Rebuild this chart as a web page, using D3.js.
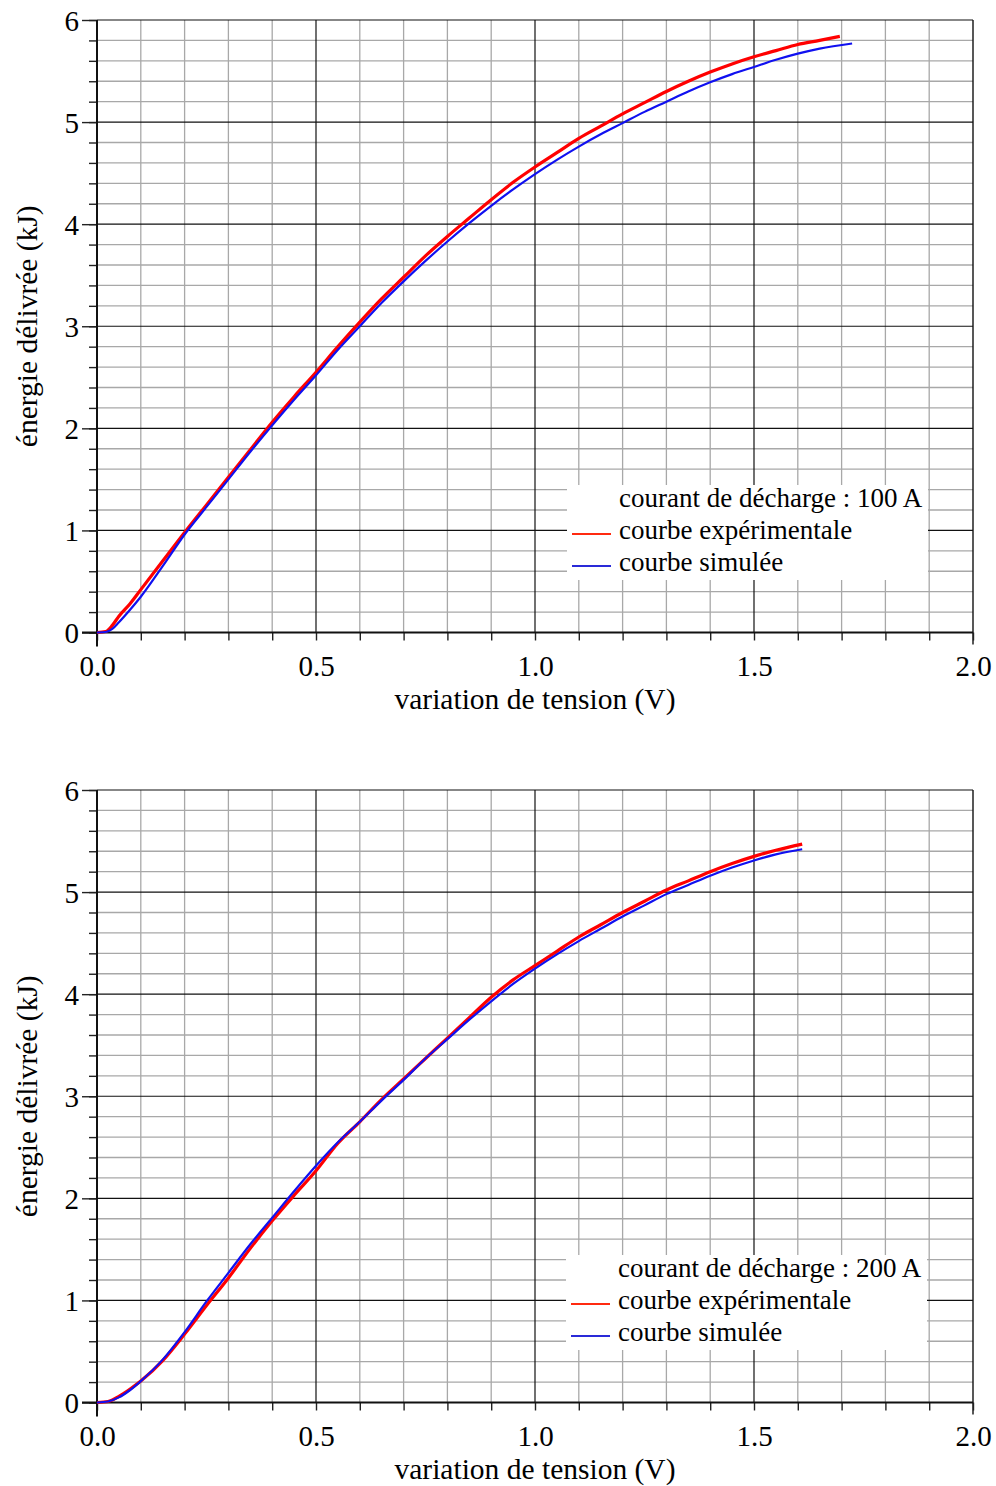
<!DOCTYPE html>
<html>
<head>
<meta charset="utf-8">
<script src="https://cdn.jsdelivr.net/npm/d3@7"></script>
<style>
body { margin: 0; background: #fff; }
svg { display: block; font-family: 'Liberation Serif', 'Times New Roman', serif; }
</style>
</head>
<body>
<svg id="chart" width="996" height="1486"></svg>
<script>
'use strict';

// 100 A discharge
var aVoltExp100 = [0, 0.02, 0.035, 0.05, 0.075, 0.1, 0.15, 0.2, 0.25, 0.3, 0.35, 0.4, 0.45, 0.5, 0.55, 0.6, 0.65, 0.7, 0.75, 0.8, 0.85, 0.9, 0.95, 1.0, 1.05, 1.1, 1.15, 1.2, 1.25, 1.3, 1.35, 1.4, 1.45, 1.5, 1.55, 1.6, 1.65, 1.696];
var aEnergyExp100 = [0, 0.01, 0.07, 0.16, 0.28, 0.42, 0.70, 0.98, 1.25, 1.52, 1.79, 2.06, 2.31, 2.55, 2.80, 3.04, 3.27, 3.48, 3.69, 3.88, 4.06, 4.24, 4.41, 4.56, 4.70, 4.84, 4.96, 5.08, 5.19, 5.30, 5.40, 5.49, 5.57, 5.64, 5.70, 5.76, 5.80, 5.84];
var aVoltSim100 = [0, 0.02, 0.035, 0.05, 0.075, 0.1, 0.15, 0.2, 0.25, 0.3, 0.35, 0.4, 0.45, 0.5, 0.55, 0.6, 0.65, 0.7, 0.75, 0.8, 0.85, 0.9, 0.95, 1.0, 1.05, 1.1, 1.15, 1.2, 1.25, 1.3, 1.35, 1.4, 1.45, 1.5, 1.55, 1.6, 1.65, 1.724];
var aEnergySim100 = [0, 0.005, 0.035, 0.10, 0.22, 0.35, 0.65, 0.96, 1.23, 1.50, 1.77, 2.03, 2.28, 2.52, 2.77, 3.00, 3.23, 3.44, 3.64, 3.83, 4.01, 4.18, 4.34, 4.49, 4.63, 4.76, 4.88, 4.99, 5.10, 5.20, 5.30, 5.39, 5.47, 5.54, 5.61, 5.67, 5.72, 5.77];

// 200 A discharge
var aVolt200 = [0, 0.025, 0.05, 0.075, 0.1, 0.15, 0.2, 0.25, 0.3, 0.35, 0.4, 0.45, 0.5, 0.55, 0.6, 0.65, 0.7, 0.75, 0.8, 0.85, 0.9, 0.95, 1.0, 1.05, 1.1, 1.15, 1.2, 1.25, 1.3, 1.35, 1.4, 1.45, 1.5, 1.55, 1.61];
var aEnergyExp200 = [0, 0.01, 0.06, 0.13, 0.21, 0.41, 0.67, 0.95, 1.22, 1.51, 1.78, 2.03, 2.27, 2.54, 2.75, 2.97, 3.17, 3.37, 3.57, 3.77, 3.97, 4.14, 4.28, 4.42, 4.56, 4.68, 4.80, 4.91, 5.02, 5.11, 5.20, 5.28, 5.35, 5.41, 5.47];
var aEnergySim200 = [0, 0.01, 0.05, 0.12, 0.21, 0.42, 0.69, 0.99, 1.27, 1.55, 1.81, 2.07, 2.32, 2.55, 2.75, 2.96, 3.16, 3.37, 3.56, 3.75, 3.93, 4.10, 4.25, 4.39, 4.52, 4.64, 4.76, 4.87, 4.98, 5.07, 5.16, 5.24, 5.31, 5.37, 5.42];

var aXTickLabels = [0, 0.5, 1.0, 1.5, 2.0];
var aYTickLabels = [0, 1, 2, 3, 4, 5, 6];
var strXTitle = 'variation de tension (V)';
var strYTitle = 'énergie délivrée (kJ)';
var aLegend100 = ['courant de décharge : 100 A', 'courbe expérimentale', 'courbe simulée'];
var aLegend200 = ['courant de décharge : 200 A', 'courbe expérimentale', 'courbe simulée'];

function ZipData(aX, aY)
{
	return aX.map(function(x, i) { return [x, aY[i]]; });
}

function DrawPanel(svg, nTop, aProps)
{
	var nLeft = 97, nRight = 973;
	var nBottom = nTop + 612.5;

	var g = svg.append('g');

	var xScale = d3.scaleLinear().domain([0, 2]).range([nLeft, nRight]);
	var yScale = d3.scaleLinear().domain([0, 6]).range([nBottom, nTop]);

	var arrayXMinor = d3.range(0, 21).map(function(i) { return i / 10; });
	var arrayYMinor = d3.range(0, 31).map(function(i) { return i / 5; });

	// grid
	g.append('g').selectAll('line')
		.data(arrayXMinor.filter(function(v, i) { return i % 5 != 0; }))
		.enter().append('line')
		.attr('x1', function(d) { return xScale(d); })
		.attr('x2', function(d) { return xScale(d); })
		.attr('y1', nTop).attr('y2', nBottom)
		.attr('stroke', '#a8a8a8').attr('stroke-width', 1.3);
	g.append('g').selectAll('line')
		.data(arrayYMinor.filter(function(v, i) { return i % 5 != 0; }))
		.enter().append('line')
		.attr('y1', function(d) { return yScale(d); })
		.attr('y2', function(d) { return yScale(d); })
		.attr('x1', nLeft).attr('x2', nRight)
		.attr('stroke', '#a8a8a8').attr('stroke-width', 1.3);
	g.append('g').selectAll('line')
		.data(aXTickLabels.slice(1, 4))
		.enter().append('line')
		.attr('x1', function(d) { return xScale(d); })
		.attr('x2', function(d) { return xScale(d); })
		.attr('y1', nTop).attr('y2', nBottom)
		.attr('stroke', '#111').attr('stroke-width', 1.2);
	g.append('g').selectAll('line')
		.data(aYTickLabels.slice(1))
		.enter().append('line')
		.attr('y1', function(d) { return yScale(d); })
		.attr('y2', function(d) { return yScale(d); })
		.attr('x1', nLeft).attr('x2', nRight)
		.attr('stroke', '#111').attr('stroke-width', 1.2);

	// right border
	g.append('line')
		.attr('x1', nRight).attr('x2', nRight)
		.attr('y1', nTop).attr('y2', nBottom + 12)
		.attr('stroke', '#111').attr('stroke-width', 1.4);

	// axes
	var axisYMinor = d3.axisLeft(yScale).tickValues(arrayYMinor).tickSize(8).tickFormat('');
	var axisYMajor = d3.axisLeft(yScale).tickValues(aYTickLabels).tickSize(15).tickPadding(3).tickFormat(d3.format('d'));
	var axisX = d3.axisBottom(xScale).tickValues(arrayXMinor).tickSize(8).tickPadding(15)
		.tickFormat(function(d) { return (Math.round(d * 10) % 5 == 0) ? d3.format('.1f')(d) : ''; });

	var gYMinor = g.append('g').attr('transform', 'translate(' + nLeft + ',0)').call(axisYMinor);
	var gYMajor = g.append('g').attr('transform', 'translate(' + nLeft + ',0)').call(axisYMajor);
	var gX = g.append('g').attr('transform', 'translate(0,' + nBottom + ')').call(axisX);

	[gYMinor, gYMajor, gX].forEach(function(a) {
		a.attr('font-family', null).attr('font-size', null);
		a.select('.domain').remove();
		a.selectAll('.tick line').attr('stroke', '#222').attr('stroke-width', 1.4);
		a.selectAll('.tick text').attr('fill', '#000').style('font-size', '29px');
	});
	gYMajor.selectAll('.tick text').attr('dy', '0.35em');

	// axis lines
	g.append('line')
		.attr('x1', nLeft).attr('x2', nLeft)
		.attr('y1', nTop).attr('y2', nBottom + 14)
		.attr('stroke', '#111').attr('stroke-width', 2);
	g.append('line')
		.attr('x1', nLeft - 15).attr('x2', nRight)
		.attr('y1', nBottom).attr('y2', nBottom)
		.attr('stroke', '#111').attr('stroke-width', 2);

	// titles
	g.append('text')
		.attr('x', (nLeft + nRight) / 2).attr('y', nBottom + 76)
		.attr('text-anchor', 'middle').style('font-size', '29.5px')
		.text(strXTitle);
	g.append('text')
		.attr('transform', 'translate(37,' + ((nTop + nBottom) / 2) + ') rotate(-90)')
		.attr('text-anchor', 'middle').style('font-size', '29.5px')
		.text(strYTitle);

	// legend
	var nLegX = aProps['legendx'];
	var nLegY = nTop + 465;
	g.append('rect')
		.attr('x', nLegX).attr('y', nLegY)
		.attr('width', 361).attr('height', 95)
		.attr('fill', '#fff');

	var line = d3.line()
		.x(function(d) { return xScale(d[0]); })
		.y(function(d) { return yScale(d[1]); })
		.curve(d3.curveMonotoneX);

	g.append('path')
		.datum(aProps['exp'])
		.attr('d', line)
		.attr('fill', 'none')
		.attr('stroke', '#ff0000')
		.attr('stroke-width', 3.2)
		.attr('stroke-linejoin', 'round');
	g.append('path')
		.datum(aProps['sim'])
		.attr('d', line)
		.attr('fill', 'none')
		.attr('stroke', '#1010f0')
		.attr('stroke-width', 2.2);

	var aLegend = aProps['legend'];
	var aLegColors = [null, '#ff2a10', '#2a2ad8'];
	aLegend.forEach(function(strLabel, i) {
		var nBase = nLegY + 22 + i * 32;
		g.append('text')
			.attr('x', nLegX + 52).attr('y', nBase)
			.style('font-size', '27px')
			.text(strLabel);
		if (aLegColors[i] != null)
		{
			g.append('line')
				.attr('x1', nLegX + 5).attr('x2', nLegX + 44)
				.attr('y1', nBase - 5).attr('y2', nBase - 5)
				.attr('stroke', aLegColors[i]).attr('stroke-width', 2.2);
		}
	});
}

var svg = d3.select('#chart');

DrawPanel(svg, 20, {
	'exp': ZipData(aVoltExp100, aEnergyExp100),
	'sim': ZipData(aVoltSim100, aEnergySim100),
	'legend': aLegend100,
	'legendx': 567
});

DrawPanel(svg, 790, {
	'exp': ZipData(aVolt200, aEnergyExp200),
	'sim': ZipData(aVolt200, aEnergySim200),
	'legend': aLegend200,
	'legendx': 566
});
</script>
</body>
</html>
